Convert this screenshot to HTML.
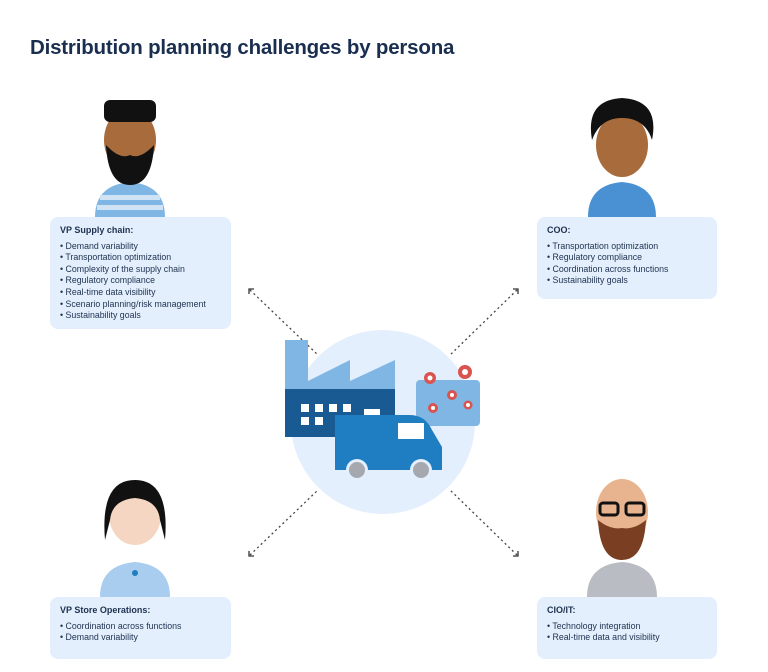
<!DOCTYPE html>
<html><head><meta charset="utf-8"><style>
body{margin:0;background:#fff;width:768px;height:672px;overflow:hidden;position:relative;font-family:"Liberation Sans",sans-serif;}
h1{position:absolute;left:30px;top:36px;margin:0;font-size:20.5px;font-weight:bold;color:#1a2e4f;letter-spacing:-0.2px}
.box{position:absolute;background:#e3effc;border-radius:8px;color:#1f3150;font-size:8.8px;line-height:11.6px;padding:8px 10px;box-sizing:border-box}
.box b{display:block;font-size:9px;margin-bottom:4px}
svg{position:absolute;left:0;top:0}
</style></head><body>
<h1>Distribution planning challenges by persona</h1>
<svg width="768" height="672">
<g stroke="#444" stroke-width="1.3" stroke-dasharray="2 3" fill="none">
<line x1="250" y1="290" x2="318" y2="355"/><line x1="517" y1="290" x2="450" y2="355"/>
<line x1="250" y1="555" x2="318" y2="490"/><line x1="517" y1="555" x2="450" y2="490"/>
</g>
<g stroke="#333" stroke-width="1.3" fill="none">
<path d="M249 294V289H254"/><path d="M513 289H518V294"/><path d="M249 551V556H254"/><path d="M513 556H518V551"/>
</g>
<circle cx="383" cy="422" r="92" fill="#e3effc"/>
<!-- factory -->
<rect x="285" y="340" width="23" height="50" fill="#7fb6e3"/>
<polygon points="308,381 350,360 350,381 395,360 395,390 308,390" fill="#7fb6e3"/>
<rect x="285" y="389" width="110" height="48" fill="#1a5a93"/>
<g fill="#fff"><rect x="301" y="404" width="8" height="8"/><rect x="315" y="404" width="8" height="8"/><rect x="329" y="404" width="8" height="8"/><rect x="343" y="404" width="8" height="8"/>
<rect x="301" y="417" width="8" height="8"/><rect x="315" y="417" width="8" height="8"/></g>
<!-- map -->
<rect x="416" y="380" width="64" height="46" rx="4" fill="#7fb6e3"/>
<g fill="#d9534f"><circle cx="430" cy="378" r="6"/><circle cx="465" cy="372" r="7"/><circle cx="452" cy="395" r="5"/><circle cx="433" cy="408" r="5"/><circle cx="468" cy="405" r="4.5"/></g>
<g fill="#fff"><circle cx="430" cy="378" r="2.5"/><circle cx="465" cy="372" r="3"/><circle cx="452" cy="395" r="2"/><circle cx="433" cy="408" r="2"/><circle cx="468" cy="405" r="2"/></g>
<!-- truck -->
<rect x="364" y="409" width="16" height="6" fill="#fff"/>
<path d="M335 415H410Q425 415 432 430L442 447V470H335Z" fill="#1f7dc1"/>
<rect x="398" y="423" width="26" height="16" fill="#fff"/>
<circle cx="357" cy="470" r="11" fill="#e3effc"/><circle cx="357" cy="470" r="8" fill="#a5a8af"/>
<circle cx="421" cy="470" r="11" fill="#e3effc"/><circle cx="421" cy="470" r="8" fill="#a5a8af"/>
<!-- persons -->
<g id="p1">
<path d="M95 217Q95 185 130 182Q165 185 165 217Z" fill="#7fb6e3"/>
<rect x="100" y="195" width="60" height="5" fill="#cfe3f5"/><rect x="97" y="205" width="66" height="5" fill="#cfe3f5"/>
<ellipse cx="130" cy="140" rx="26" ry="32" fill="#a86b3c"/>
<rect x="104" y="100" width="52" height="22" rx="6" fill="#111"/>
<path d="M106 145Q108 185 130 185Q152 185 154 145Q140 160 130 155Q120 160 106 145Z" fill="#111"/>
</g>
<g>
<path d="M588 217Q588 185 622 182Q656 185 656 217Z" fill="#4a91d4"/>
<ellipse cx="622" cy="145" rx="26" ry="32" fill="#a86b3c"/>
<path d="M592 140Q585 100 622 98Q660 100 652 140Q645 118 622 118Q600 118 592 140Z" fill="#111"/>
</g>
<g>
<path d="M100 597Q100 565 135 562Q170 565 170 597Z" fill="#a9cdef"/>
<ellipse cx="135" cy="515" rx="26" ry="30" fill="#f4d6c2"/>
<path d="M105 540Q100 480 135 480Q170 480 165 540L160 520Q158 500 135 498Q112 500 110 520Z" fill="#111"/>
<circle cx="135" cy="573" r="3" fill="#1f7dc1"/>
</g>
<g>
<path d="M587 597Q587 565 622 562Q657 565 657 597Z" fill="#b9bcc2"/>
<ellipse cx="622" cy="512" rx="26" ry="33" fill="#e8b48f"/>
<path d="M598 520Q600 560 622 560Q644 560 646 520Q634 530 622 528Q610 530 598 520Z" fill="#7a3e22"/>
<g fill="none" stroke="#111" stroke-width="3"><rect x="600" y="503" width="18" height="12" rx="3"/><rect x="626" y="503" width="18" height="12" rx="3"/></g>
</g>
</svg>
<div class="box" style="left:50px;top:217px;width:181px;height:112px"><b>VP Supply chain:</b>• Demand variability<br>• Transportation optimization<br>• Complexity of the supply chain<br>• Regulatory compliance<br>• Real-time data visibility<br>• Scenario planning/risk management<br>• Sustainability goals</div>
<div class="box" style="left:537px;top:217px;width:180px;height:82px"><b>COO:</b>• Transportation optimization<br>• Regulatory compliance<br>• Coordination across functions<br>• Sustainability goals</div>
<div class="box" style="left:50px;top:597px;width:181px;height:62px"><b>VP Store Operations:</b>• Coordination across functions<br>• Demand variability</div>
<div class="box" style="left:537px;top:597px;width:180px;height:62px"><b>CIO/IT:</b>• Technology integration<br>• Real-time data and visibility</div>
</body></html>
